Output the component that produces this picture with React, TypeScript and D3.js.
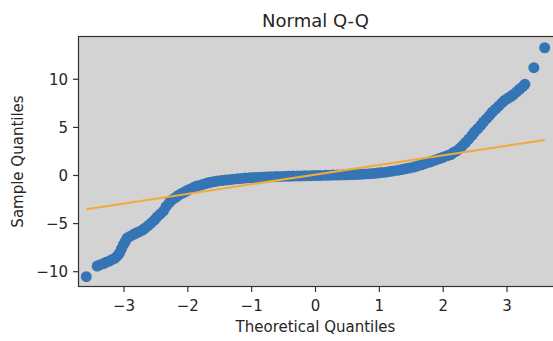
import React from "react";
import * as d3 from "d3";

// theoretical vs sample quantiles
const theoretical = [
  -3.59, -3.42, -3.37, -3.32, -3.28, -3.23, -3.18, -3.14, -3.1, -3.07, -3.04,
  -3.01, -2.98, -2.95, -2.9, -2.85, -2.81, -2.76, -2.71, -2.67, -2.62, -2.57,
  -2.52, -2.48, -2.43, -2.38, -2.34, -2.29, -2.24, -2.19, -2.15, -2.1, -2.05,
  -2.01, -1.96, -1.91, -1.87, -1.82, -1.77, -1.72, -1.68, -1.63, -1.58, -1.54,
  -1.47, -1.41, -1.35, -1.29, -1.22, -1.16, -1.1, -1.03, -0.97, -0.91, -0.85,
  -0.78, -0.72, -0.66, -0.6, -0.53, -0.47, -0.41, -0.35, -0.28, -0.22, -0.16,
  -0.09, -0.03, 0.03, 0.09, 0.16, 0.22, 0.28, 0.35, 0.41, 0.47, 0.53, 0.6,
  0.66, 0.72, 0.78, 0.85, 0.91, 0.97, 1.03, 1.1, 1.16, 1.22, 1.29, 1.35, 1.41,
  1.47, 1.54, 1.6, 1.66, 1.72, 1.79, 1.83, 1.88, 1.93, 1.98, 2.02, 2.07, 2.12,
  2.16, 2.21, 2.26, 2.3, 2.35, 2.4, 2.45, 2.49, 2.54, 2.59, 2.63, 2.68, 2.73,
  2.77, 2.82, 2.87, 2.92, 2.96, 3.01, 3.06, 3.1, 3.15, 3.2, 3.25, 3.28, 3.42,
  3.59,
];

const sample = [
  -10.52, -9.41, -9.27, -9.15, -9.01, -8.89, -8.73, -8.58, -8.32, -8.06, -7.64,
  -7.22, -6.86, -6.5, -6.31, -6.13, -5.98, -5.84, -5.67, -5.46, -5.21, -4.92,
  -4.61, -4.31, -4.0, -3.67, -3.22, -2.81, -2.49, -2.28, -2.07, -1.88, -1.72,
  -1.56, -1.4, -1.26, -1.13, -1.03, -0.94, -0.84, -0.76, -0.69, -0.62, -0.58,
  -0.52, -0.48, -0.44, -0.38, -0.34, -0.3, -0.27, -0.24, -0.22, -0.2, -0.18,
  -0.16, -0.14, -0.12, -0.11, -0.1, -0.08, -0.07, -0.06, -0.05, -0.04, -0.03,
  -0.02, -0.01, 0.0, 0.01, 0.02, 0.03, 0.04, 0.05, 0.06, 0.07, 0.08, 0.1,
  0.11, 0.14, 0.16, 0.19, 0.22, 0.26, 0.3, 0.35, 0.42, 0.48, 0.54, 0.62, 0.71,
  0.78, 0.88, 0.99, 1.11, 1.26, 1.4, 1.51, 1.62, 1.73, 1.84, 1.96, 2.07, 2.18,
  2.38, 2.55, 2.81, 3.09, 3.43, 3.79, 4.16, 4.52, 4.86, 5.22, 5.56, 5.91, 6.27,
  6.6, 6.91, 7.22, 7.54, 7.8, 8.02, 8.21, 8.42, 8.7, 8.99, 9.27, 9.48, 11.21,
  13.28,
];

// reference ("s") line end points
const lineX = [-3.59, 3.59];
const lineY = [-3.5, 3.69];

const xTicks = [-3, -2, -1, 0, 1, 2, 3];
const yTicks = [-10, -5, 0, 5, 10];

const width = 553;
const height = 341;
const margin = { top: 36, right: 0, bottom: 54, left: 78 };

const fmt = (v: number) => (v < 0 ? "\u2212" + Math.abs(v) : String(v));

export default function App() {
  const x = d3
    .scaleLinear()
    .domain([-3.72, 3.72])
    .range([margin.left, width - margin.right]);
  const y = d3
    .scaleLinear()
    .domain([-11.59, 14.5])
    .range([height - margin.bottom, margin.top]);

  const line = d3
    .line<number>()
    .x((d) => x(d))
    .y((_, i) => y(lineY[i]));

  const font = "DejaVu Sans, sans-serif";
  const x0 = margin.left;
  const x1 = width - margin.right;
  const y0 = margin.top;
  const y1 = height - margin.bottom;

  return (
    <svg
      width={width}
      height={height}
      style={{ position: "absolute", left: 0, top: 0, background: "white" }}
      fontFamily={font}
    >
      <rect x={x0} y={y0} width={x1 - x0} height={y1 - y0} fill="#d3d3d3" />

      <g>
        {theoretical.map((t, i) => (
          <circle key={i} cx={x(t)} cy={y(sample[i])} r={5.5} fill="#3575b6" />
        ))}
      </g>

      <path d={line(lineX) || ""} fill="none" stroke="#f0aa3c" strokeWidth={2} />

      {/* spines */}
      <rect
        x={x0 + 0.5}
        y={y0 + 0.5}
        width={x1 - x0 + 1}
        height={y1 - y0 - 1}
        fill="none"
        stroke="#333"
        strokeWidth={1.2}
      />

      {xTicks.map((t) => (
        <g key={t} transform={`translate(${x(t)},${y1})`}>
          <line y1={0} y2={5} stroke="#333" strokeWidth={1.2} />
          <text y={24} textAnchor="middle" fontSize={15} fill="#262626">
            {fmt(t)}
          </text>
        </g>
      ))}

      {yTicks.map((t) => (
        <g key={t} transform={`translate(${x0},${y(t)})`}>
          <line x1={0} x2={-5} stroke="#333" strokeWidth={1.2} />
          <text
            x={-10}
            dy="0.36em"
            textAnchor="end"
            fontSize={15}
            fill="#262626"
          >
            {fmt(t)}
          </text>
        </g>
      ))}

      <text
        x={(x0 + x1) / 2}
        y={26.5}
        textAnchor="middle"
        fontSize={18}
        fill="#262626"
      >
        Normal Q-Q
      </text>
      <text
        x={(x0 + x1) / 2}
        y={332}
        textAnchor="middle"
        fontSize={15}
        fill="#262626"
      >
        Theoretical Quantiles
      </text>
      <text
        transform={`translate(23,${(y0 + y1) / 2}) rotate(-90)`}
        textAnchor="middle"
        fontSize={15}
        fill="#262626"
      >
        Sample Quantiles
      </text>
    </svg>
  );
}
